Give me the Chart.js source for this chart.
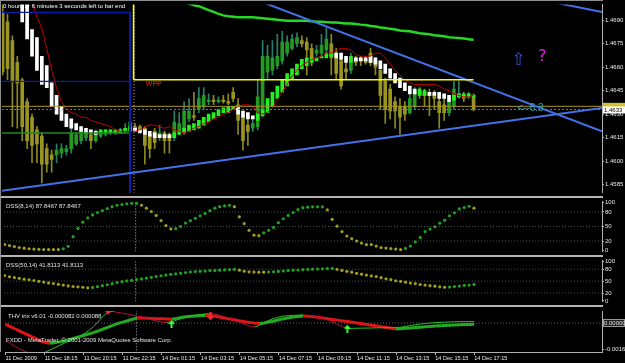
<!DOCTYPE html>
<html>
<head>
<meta charset="utf-8">
<script src="https://cdn.jsdelivr.net/npm/chart.js@4.4.1/dist/chart.umd.min.js"></script>
<style>
html, body { margin: 0; padding: 0; background: #000; }
body { width: 625px; height: 363px; position: relative; overflow: hidden; }
canvas { position: absolute; left: 0; }
.sep { position: absolute; left: 0; width: 603px; height: 2px; background: #b4b4b4; }
</style>
</head>
<body>
<canvas id="main" width="625" height="197" style="top:0"></canvas>
<canvas id="dss1" width="625" height="59" style="top:197px"></canvas>
<canvas id="dss2" width="625" height="50" style="top:256px"></canvas>
<canvas id="thv" width="625" height="57" style="top:306px"></canvas>
<div class="sep" style="top:196px"></div>
<div class="sep" style="top:255px"></div>
<div class="sep" style="top:305px"></div>
<div style="position:absolute;left:0;top:0;width:603px;height:1px;background:#8c8c8c"></div>
<div style="position:absolute;left:0;top:0;width:1px;height:352px;background:#8c8c8c"></div>
<script>
// EURUSD M15, 11 Dec 16:15 -> 14 Dec 17:15 (bar index 0..96)
const openP = [1.4695,1.4689,1.4677,1.4663,1.4652,1.4638,1.4628,1.4620,1.4616,1.4608,
  1.4604,1.4604,1.4605,1.4606,1.4608,1.4611,1.4613,1.4615,1.4617,1.4613,
  1.4616,1.4617,1.4618,1.4618,1.4618,1.4619,1.4620,1.4622,1.4622,1.4621,
  1.4617,1.4619,1.4615,1.4618,1.4617,1.4615,1.4619,1.4618,1.4627,1.4629,
  1.4633,1.4635,1.4638,1.4639,1.4638,1.4639,1.4638,1.4644,1.4636,1.4629,
  1.4623,1.4621,1.4622,1.4630,1.4657,1.4658,1.4661,1.4664,1.4669,1.4672,
  1.4675,1.4677,1.4676,1.4672,1.4669,1.4669,1.4671,1.4675,1.4669,1.4664,
  1.4659,1.4658,1.4666,1.4666,1.4665,1.4669,1.4664,1.4658,1.4651,1.4646,
  1.4638,1.4635,1.4635,1.4631,1.4635,1.4645,1.4644,1.4644,1.4643,1.4638,
  1.4636,1.4631,1.4635,1.4641,1.4642,1.4641,1.4642];
const highP = [1.4700,1.4694,1.4680,1.4667,1.4653,1.4640,1.4630,1.4622,1.4618,1.4611,
  1.4607,1.4611,1.4611,1.4610,1.4621,1.4618,1.4621,1.4620,1.4618,1.4620,
  1.4620,1.4620,1.4620,1.4620,1.4621,1.4624,1.4627,1.4624,1.4623,1.4622,
  1.4618,1.4621,1.4623,1.4619,1.4618,1.4632,1.4631,1.4638,1.4640,1.4644,
  1.4647,1.4647,1.4643,1.4642,1.4641,1.4642,1.4643,1.4647,1.4640,1.4632,
  1.4627,1.4627,1.4652,1.4677,1.4674,1.4677,1.4681,1.4683,1.4680,1.4681,
  1.4682,1.4680,1.4679,1.4675,1.4674,1.4681,1.4685,1.4681,1.4672,1.4667,
  1.4664,1.4669,1.4667,1.4667,1.4667,1.4672,1.4666,1.4661,1.4653,1.4649,
  1.4641,1.4640,1.4638,1.4643,1.4647,1.4647,1.4646,1.4646,1.4645,1.4642,
  1.4640,1.4641,1.4651,1.4651,1.4644,1.4644,1.4643];
const lowP = [1.4655,1.4652,1.4622,1.4621,1.4613,1.4608,1.4599,1.4599,1.4586,1.4593,
  1.4593,1.4599,1.4602,1.4604,1.4605,1.4610,1.4611,1.4613,1.4608,1.4612,
  1.4615,1.4616,1.4617,1.4617,1.4618,1.4618,1.4618,1.4619,1.4618,1.4598,
  1.4602,1.4608,1.4613,1.4605,1.4605,1.4613,1.4617,1.4617,1.4625,1.4626,
  1.4631,1.4633,1.4636,1.4636,1.4637,1.4637,1.4636,1.4638,1.4617,1.4607,
  1.4610,1.4619,1.4620,1.4628,1.4652,1.4655,1.4659,1.4662,1.4667,1.4671,
  1.4673,1.4673,1.4655,1.4661,1.4667,1.4667,1.4669,1.4655,1.4652,1.4646,
  1.4652,1.4656,1.4661,1.4661,1.4662,1.4661,1.4655,1.4633,1.4624,1.4627,
  1.4621,1.4617,1.4626,1.4630,1.4633,1.4640,1.4635,1.4629,1.4633,1.4621,
  1.4626,1.4629,1.4633,1.4640,1.4638,1.4640,1.4632];
const closeP = [1.4657,1.4659,1.4651,1.4650,1.4622,1.4613,1.4610,1.4611,1.4598,1.4598,
  1.4601,1.4607,1.4608,1.4608,1.4618,1.4617,1.4619,1.4618,1.4613,1.4619,
  1.4619,1.4618,1.4619,1.4619,1.4620,1.4621,1.4625,1.4620,1.4620,1.4610,
  1.4608,1.4612,1.4618,1.4613,1.4613,1.4625,1.4624,1.4632,1.4632,1.4628,
  1.4640,1.4642,1.4639,1.4638,1.4639,1.4638,1.4637,1.4640,1.4626,1.4613,
  1.4619,1.4624,1.4641,1.4667,1.4667,1.4666,1.4667,1.4676,1.4676,1.4678,
  1.4679,1.4675,1.4671,1.4664,1.4671,1.4674,1.4678,1.4666,1.4656,1.4648,
  1.4657,1.4666,1.4663,1.4664,1.4663,1.4663,1.4660,1.4642,1.4633,1.4632,
  1.4632,1.4628,1.4630,1.4640,1.4645,1.4642,1.4642,1.4642,1.4640,1.4631,
  1.4631,1.4638,1.4646,1.4643,1.4640,1.4643,1.4633];

// Heiken Ashi bodies
const haOpen = [null,null,null,null,1.4704,1.4701,1.4684,1.4679,1.4667,1.4661,
  1.4650,1.4642,1.4635,1.4630,1.4627,1.4624,1.4622,1.4621,1.4620,1.4619,
  1.4618,1.4618,1.4618,1.4618,1.4618,1.4619,1.4619,1.4621,1.4620,1.4620,
  1.4619,1.4618,1.4617,1.4617,1.4617,1.4615,1.4617,1.4618,1.4619,1.4620,
  1.4621,1.4623,1.4625,1.4627,1.4629,1.4631,1.4631,1.4633,1.4634,1.4632,
  1.4631,1.4629,1.4626,1.4629,1.4631,1.4635,1.4640,1.4644,1.4648,1.4652,
  1.4655,1.4659,1.4661,1.4663,1.4664,1.4666,1.4666,1.4667,1.4669,1.4669,
  1.4667,1.4663,1.4666,1.4666,1.4666,1.4667,1.4666,1.4664,1.4662,1.4659,
  1.4656,1.4653,1.4650,1.4648,1.4646,1.4642,1.4642,1.4644,1.4644,1.4644,
  1.4643,1.4642,1.4639,1.4641,1.4641,1.4641,1.4641];
const haClose = [null,null,null,null,1.4689,1.4678,1.4667,1.4658,1.4649,1.4647,
  1.4635,1.4630,1.4626,1.4622,1.4621,1.4620,1.4619,1.4618,1.4618,1.4617,
  1.4620,1.4620,1.4620,1.4620,1.4620,1.4621,1.4622,1.4619,1.4618,1.4617,
  1.4616,1.4615,1.4615,1.4615,1.4615,1.4618,1.4619,1.4621,1.4623,1.4624,
  1.4626,1.4628,1.4630,1.4631,1.4633,1.4634,1.4635,1.4635,1.4630,1.4628,
  1.4627,1.4627,1.4630,1.4633,1.4640,1.4644,1.4648,1.4652,1.4656,1.4659,
  1.4662,1.4665,1.4666,1.4666,1.4666,1.4667,1.4669,1.4669,1.4666,1.4665,
  1.4663,1.4667,1.4664,1.4664,1.4664,1.4663,1.4662,1.4659,1.4656,1.4653,
  1.4650,1.4647,1.4645,1.4643,1.4643,1.4646,1.4645,1.4642,1.4642,1.4640,
  1.4640,1.4638,1.4642,1.4643,1.4643,1.4643,1.4642];

// moving averages
const maRed = [null,null,null,null,null,null,1.4702,1.4692,1.4685,1.4672,
  1.4658,1.4647,1.4638,1.4633,1.4631,1.4630,1.4628,1.4628,1.4626,1.4625,
  1.4624,1.4623,1.4622,1.4620,1.4619,1.4619,1.4619,1.4619,1.4620,1.4622,
  1.4623,1.4623,1.4622,1.4621,1.4622,1.4620,1.4619,1.4618,1.4619,1.4621,
  1.4622,1.4624,1.4625,1.4627,1.4628,1.4630,1.4631,1.4633,1.4635,1.4636,
  1.4636,1.4635,1.4631,1.4630,1.4631,1.4634,1.4639,1.4644,1.4649,1.4654,
  1.4658,1.4661,1.4663,1.4665,1.4666,1.4667,1.4669,1.4669,1.4671,1.4672,
  1.4672,1.4671,1.4668,1.4667,1.4667,1.4667,1.4669,1.4669,1.4666,1.4662,
  1.4658,1.4655,1.4652,1.4650,1.4649,1.4649,1.4649,1.4649,1.4649,1.4648,
  1.4646,1.4645,1.4643,1.4642,1.4641,1.4641,1.4642];
const maGreen = [null,null,null,null,null,null,null,null,null,null,
  null,null,null,null,null,null,null,null,null,null,
  null,null,null,null,null,null,null,null,null,null,
  null,null,null,null,null,null,1.47021,1.47015,1.47006,1.46996,
  1.46990,1.46978,1.46965,1.46953,1.46941,1.46931,1.46925,1.46922,1.46919,1.46919,
  1.46919,1.46919,1.46916,1.46913,1.46910,1.46907,1.46903,1.46900,1.46897,1.46897,
  1.46897,1.46897,1.46897,1.46894,1.46891,1.46891,1.46888,1.46885,1.46885,1.46882,
  1.46879,1.46879,1.46876,1.46872,1.46869,1.46863,1.46860,1.46854,1.46851,1.46845,
  1.46841,1.46835,1.46832,1.46829,1.46823,1.46817,1.46814,1.46810,1.46804,1.46801,
  1.46798,1.46792,1.46789,1.46786,1.46783,1.46779,1.46776];

// DSS(8,14) and second DSS
const dss1 = [12.7,10.6,8.5,6.6,5.2,4.0,3.4,2.8,2.4,2.2,
  2.2,2.2,4.0,9.0,29,46,59,68,74,79,
  83,87,91,94,95.5,97,98,98,94,88,
  81,73,62,52,45,45.5,50,57,62,67,
  72,77,83,88,91,92.5,94,91,70,56,
  42,32,31,37,42,48,58,66,73,79,
  85,89,90,90.6,90.6,90.6,84.5,64.8,50.6,39.6,
  30.4,24.9,20,15.7,12.7,12.7,9.6,6.4,5.3,4.1,
  3.4,2.2,4.7,9.6,18.2,27.4,39.6,44.6,49.5,56.9,
  63,72.2,78.3,86.4,89.3,91.9,87.8467];
const dss2 = [63.9,61,59,57,55,53.5,51.5,49.5,47.5,45.5,
  44,42,40,38,36.5,35.5,34.5,33,34,36,
  38.5,40.8,43.5,46.5,48.5,50.5,52,54,55.5,57.5,
  59.5,61.5,63.5,65.3,67,68.5,70,71.5,73,74,
  74.7,75.4,76.2,76.9,77.6,78.3,79.1,79.8,77.6,75,
  73.5,72.8,72.6,72.5,73,73.5,74.5,75.5,76.5,77.5,
  78,79,79.5,80,80.5,81,81.5,81.9,79.8,76.9,
  74.7,72.6,69.6,67.5,65.3,63.2,61.7,58.8,55.9,53.8,
  50.9,49.5,47.3,45.1,43.7,41.5,40.1,38.6,37.2,35.7,
  34.5,35,36.5,37.5,39.5,40.1,41.8113];
const dssLevels = [20, 50, 80];
const dssTicks = [0, 20, 50, 80, 100];

// THV trix
const thvMain = [-0.000086,-0.000229,-0.000372,-0.000515,-0.000658,-0.000801,-0.000944,-0.001087,-0.001201,-0.001258,
  -0.00123,-0.001173,-0.001115,-0.00103,-0.000944,-0.000858,-0.000772,-0.000686,-0.000601,-0.000486,
  -0.000372,-0.000257,-0.000143,-0.000029,0.000057,0.000143,0.000229,0.000315,0.000303,0.000292,
  0.00028,0.000269,0.000257,0.000246,0.000235,0.000286,0.000343,0.000383,0.000418,0.00044,
  0.000458,0.000469,0.000452,0.000412,0.00036,0.000303,0.000246,0.000189,0.000132,0.000074,
  0.000029,-0.000006,-0.000029,0,0.000057,0.000126,0.0002,0.000269,0.000326,0.000372,
  0.000406,0.000429,0.000418,0.000395,0.00036,0.000315,0.000269,0.000223,0.000177,0.000132,
  0.000086,0.00004,-0.000006,-0.000051,-0.000097,-0.000143,-0.000189,-0.000235,-0.00028,-0.000326,
  -0.000372,-0.000355,-0.000332,-0.000309,-0.000286,-0.000263,-0.00024,-0.000217,-0.000194,-0.000172,
  -0.000154,-0.000137,-0.00012,-0.000103,-0.000095,-0.000088,-0.000082];
const thvFast = [-0.001115,-0.001287,-0.001459,-0.00163,-0.001773,-0.001859,-0.001916,-0.001916,-0.00183,-0.001687,
  -0.001544,-0.001401,-0.001258,-0.001115,-0.000972,-0.000829,-0.000686,-0.000486,-0.000229,0.000086,
  0.000429,0.000686,0.000715,0.000658,0.000601,0.000543,0.000486,0.000429,0.000372,0.000286,
  0.0002,0.000114,0.000057,0.000029,0.000057,0.000172,0.000286,0.000372,0.000429,0.000486,
  0.000532,0.000566,0.000583,0.000543,0.000458,0.000372,0.000257,0.000143,0.000029,-0.000086,
  -0.0002,-0.000257,-0.000143,0.000029,0.000172,0.000286,0.000372,0.000429,0.000458,0.000475,
  0.000486,0.000492,0.000469,0.000429,0.000372,0.000315,0.0002,0.000057,-0.000086,-0.000229,
  -0.000343,-0.000332,-0.000326,-0.00032,-0.000315,-0.000309,-0.000303,-0.000297,-0.000292,-0.000286,
  -0.00028,-0.000257,-0.000212,-0.00016,-0.000109,-0.000063,-0.000029,0,0.000023,0.00004,
  0.000051,0.000063,0.000074,0.00008,0.000083,0.000086,0.000088];
const thvSellArrows = [{ x: 21, y: 0.00077 }, { x: 42, y: 0.00041 }];
const thvBuyArrows = [{ x: 34, y: -0.00007 }, { x: 70, y: -0.00035 }];
const thvMinLabel = -0.00163;

// axes
const priceTicks = [1.4585, 1.4600, 1.4615, 1.4630, 1.4645, 1.4660, 1.4675, 1.4690];
const timeLabels = ['11 Dec 2009', '11 Dec 18:15', '11 Dec 20:15', '11 Dec 22:15', '14 Dec 01:15', '14 Dec 03:15',
  '14 Dec 05:15', '14 Dec 07:15', '14 Dec 09:15', '14 Dec 11:15', '14 Dec 13:15', '14 Dec 15:15', '14 Dec 17:15'];
const timeTickBars = [0, 8, 16, 24, 32, 40, 48, 56, 64, 72, 80, 88, 96];

// chart objects (bar index / price)
const blueLevels = [1.4695, 1.4651];
const blueEnd = 26.0;
const greenLevel = 1.4618;
const yellowLevel = 1.4652;
const yellowSpan = [26.7, 96];
const oliveLevel = 1.4635;
const daySeparator = 26.8;
const supportLine = [[-0.12, 1.4581], [122.18, 1.4634]];
const resistLine = [[40, 1.4717], [122.18, 1.4619]];
const upperLine = [[105, 1.4706], [122.18, 1.46953]];

const X_MIN = -0.12, X_MAX = 122.18;
const bars = openP.map((_, i) => i);
const last = bars.length - 1;

Chart.defaults.font.family = "'Liberation Sans', Arial, sans-serif";
Chart.defaults.font.size = 6;
Chart.defaults.color = '#e8e8e8';
Chart.defaults.animation = false;
Chart.defaults.plugins.legend.display = false;
Chart.defaults.plugins.tooltip.enabled = false;

const pts = arr => arr.map((v, i) => ({ x: i, y: v }));
function trend(arr) {
  const out = []; let up = false;
  arr.forEach((v, i) => {
    if (i > 0 && v != null && arr[i - 1] != null) {
      if (v > arr[i - 1]) up = true; else if (v < arr[i - 1]) up = false;
    }
    out.push(up);
  });
  return out;
}
function seg(points, color, width, dash, order) {
  return { type: 'line', data: points.map(p => ({ x: p[0], y: p[1] })), borderColor: color, borderWidth: width,
    borderDash: dash || [], pointRadius: 0, order: order };
}
function xAxis(show) {
  return {
    type: 'linear', min: X_MIN, max: X_MAX, offset: false, display: show,
    grid: { display: show, drawOnChartArea: false, offset: false, tickLength: 3, tickColor: '#b0b0b0' },
    border: { display: show, color: '#b0b0b0' },
    afterBuildTicks: s => { s.ticks = timeTickBars.map(v => ({ value: v })); },
    afterFit: s => { if (show) s.height = 11; },
    ticks: { autoSkip: false, maxRotation: 0, minRotation: 0, align: 'start', padding: 0,
      font: { size: 5.6 }, callback: (v, i) => timeLabels[i] }
  };
}
function yAxis(min, max, tickVals, fmt) {
  return {
    position: 'right', min: min, max: max, beginAtZero: false,
    afterBuildTicks: s => { s.ticks = tickVals.map(v => ({ value: v })); },
    afterFit: s => { s.width = 23; },
    grid: { drawOnChartArea: false, tickLength: 2, tickColor: '#b0b0b0' },
    border: { color: '#b0b0b0' },
    ticks: { padding: 1, autoSkip: false, callback: fmt, font: { size: 6 } }
  };
}

// ---------- main price chart ----------
const bull = i => closeP[i] >= openP[i];
const haBull = i => haClose[i] >= haOpen[i];

const mainText = {
  id: 'mainText',
  afterDraw(chart) {
    const { ctx, scales: { x, y }, chartArea } = chart;
    ctx.save();
    ctx.textBaseline = 'middle';
    ctx.fillStyle = '#ffffff';
    ctx.font = "6px 'Liberation Sans'";
    ctx.fillText('0 hours or 6 minutes 3 seconds left to bar end', 3, 6);
    ctx.fillStyle = '#b01818';
    ctx.font = "bold 7px 'Liberation Sans'";
    ctx.fillText('WPP', x.getPixelForValue(29.2), y.getPixelForValue(1.46491));
    ctx.textAlign = 'center';
    ctx.fillStyle = '#3555d8';
    ctx.font = "17px 'DejaVu Sans'";
    ctx.fillText('\u21E7', x.getPixelForValue(105.2), y.getPixelForValue(1.46643));
    ctx.fillStyle = '#e020e0';
    ctx.font = "16px 'DejaVu Sans'";
    ctx.fillText('?', x.getPixelForValue(110.0), y.getPixelForValue(1.46665));
    ctx.textAlign = 'left';
    ctx.fillStyle = '#38a8a8';
    ctx.font = "10px 'Liberation Sans'";
    ctx.fillText('<--6.3', x.getPixelForValue(104.9), y.getPixelForValue(1.46339));
    // price labels on the axis
    const bx = chartArea.right + 1;
    ctx.font = "6px 'Liberation Sans'";
    ctx.fillStyle = '#d4c030';
    ctx.fillRect(bx, y.getPixelForValue(oliveLevel) - 3.5, 22, 7);
    const yb = y.getPixelForValue(closeP[last]);
    ctx.fillStyle = '#ffffff';
    ctx.fillRect(bx, yb - 3, 22, 7);
    ctx.fillStyle = '#000000';
    ctx.fillText(closeP[last].toFixed(4), bx + 1, yb + 0.5);
    ctx.restore();
  }
};

new Chart(document.getElementById('main'), {
  type: 'bar',
  data: {
    datasets: [
      seg([[yellowSpan[0], yellowLevel], [yellowSpan[1], yellowLevel]], '#ffff00', 1.6, null, 1),
      seg([[yellowSpan[0], 1.4703], [yellowSpan[0], yellowLevel]], '#ffff00', 1.6, null, 1),
      seg(supportLine, '#4470e8', 2, null, 2),
      seg(resistLine, '#4470e8', 2, null, 2),
      seg(upperLine, '#4470e8', 2, null, 2),
      seg([[X_MIN, blueLevels[0]], [blueEnd, blueLevels[0]]], '#0c1ca8', 1.3, null, 3),
      seg([[X_MIN, blueLevels[1]], [blueEnd, blueLevels[1]]], '#0c1ca8', 1.3, null, 3),
      seg([[blueEnd, blueLevels[0]], [blueEnd, 1.4570]], '#0c1ca8', 2.2, null, 3),
      seg([[X_MIN, greenLevel], [blueEnd - 0.1, greenLevel]], '#1d8a1d', 1.6, null, 3),
      seg([[blueEnd - 0.1, greenLevel], [blueEnd - 0.1, 1.4570]], '#1d8a1d', 1.3, null, 3),
      seg([[X_MIN, oliveLevel], [X_MAX, oliveLevel]], '#a89428', 1, null, 4),
      seg([[X_MIN, closeP[last]], [X_MAX, closeP[last]]], '#7a7a7a', 1, [2, 2], 4),
      seg([[daySeparator, 1.4570], [daySeparator, 1.4710]], '#b8b8b8', 1, [1, 2], 5),
      { type: 'line', data: pts(maGreen), borderColor: '#26d826', borderWidth: 2.5, pointRadius: 0, order: 6 },
      { type: 'line', data: pts(maRed), borderColor: '#c00000', borderWidth: 1, pointRadius: 0, order: 7 },
      { type: 'bar', data: bars.map(i => ({ x: i, y: haOpen[i] == null ? null : [haOpen[i], haClose[i]] })),
        barThickness: 3, grouped: false, minBarLength: 1,
        backgroundColor: c => haBull(c.dataIndex) ? '#22f022' : '#ffffff', order: 8 },
      { type: 'bar', data: bars.map(i => ({ x: i, y: [openP[i], closeP[i]] })),
        barThickness: 3, grouped: false, minBarLength: 1,
        backgroundColor: c => bull(c.dataIndex) ? '#239a23' : '#9a9422', order: 9 },
      { type: 'bar', data: bars.map(i => ({ x: i, y: [lowP[i], highP[i]] })),
        barThickness: 1, grouped: false,
        backgroundColor: c => bull(c.dataIndex) ? '#2a7f6a' : '#8a8a1c', order: 10 }
    ]
  },
  options: {
    responsive: false, devicePixelRatio: 1,
    layout: { padding: { left: 2, top: 2, bottom: 1, right: 0 } },
    scales: {
      x: xAxis(false),
      y: yAxis(1.4580, 1.4700, priceTicks, v => v.toFixed(4))
    }
  },
  plugins: [mainText]
});

// ---------- DSS panels ----------
function dssChart(id, values, label, min, max, pad) {
  const up = trend(values);
  const txt = {
    id: 'txt' + id,
    afterDraw(chart) {
      const { ctx, chartArea } = chart;
      ctx.save();
      ctx.fillStyle = '#e0e0e0';
      ctx.font = "6px 'Liberation Sans'";
      ctx.textBaseline = 'middle';
      ctx.fillText(label, chartArea.left + 2, chartArea.top + 5);
      ctx.restore();
    }
  };
  const ds = [
    { data: pts(values), showLine: false, pointRadius: 1.6, pointBorderWidth: 0,
      pointBackgroundColor: c => up[c.dataIndex] ? '#22a022' : '#a09c22', order: 1 },
    seg([[daySeparator, min], [daySeparator, max]], '#b8b8b8', 1, [1, 2], 3)
  ];
  dssLevels.forEach(l => ds.push(seg([[X_MIN, l], [X_MAX, l]], '#3a5a4a', 1, [1, 2], 2)));
  new Chart(document.getElementById(id), {
    type: 'line',
    data: { datasets: ds },
    options: {
      responsive: false, devicePixelRatio: 1,
      layout: { padding: pad },
      scales: { x: xAxis(false), y: yAxis(min, max, dssTicks, v => String(v)) }
    },
    plugins: [txt]
  });
}
dssChart('dss1', dss1, 'DSS(8,14) 87.8467 87.8467', -1.5, 101.5, { left: 2, top: 2, bottom: 1, right: 0 });
dssChart('dss2', dss2, 'DSS(50,14) 41.8113 41.8113', -1.1, 101.7, { left: 2, top: 1.5, bottom: 1, right: 0 });

// ---------- THV panel ----------
function arrowImg(color, up) {
  const c = document.createElement('canvas'); c.width = 7; c.height = 8;
  const g = c.getContext('2d'); g.fillStyle = color;
  g.beginPath();
  if (up) { g.moveTo(3.5, 0); g.lineTo(7, 4); g.lineTo(0, 4); g.fill(); g.fillRect(2.5, 4, 2, 4); }
  else { g.fillRect(2.5, 0, 2, 4); g.moveTo(0, 4); g.lineTo(7, 4); g.lineTo(3.5, 8); g.fill(); }
  return c;
}
const mainUp = trend(thvMain);
const fastUp = trend(thvFast);
const thvText = {
  id: 'thvText',
  afterDraw(chart) {
    const { ctx, chartArea, scales: { y } } = chart;
    ctx.save();
    ctx.font = "6px 'Liberation Sans'";
    ctx.textBaseline = 'middle';
    ctx.fillStyle = '#e0e0e0';
    ctx.fillText('THV trix v6.01 ' + thvMain[last].toFixed(6) + ' ' + thvFast[last].toFixed(6), chartArea.left + 3, chartArea.top + 5);
    ctx.fillText('FXDD - MetaTrader, \u00A9 2001-2009 MetaQuotes Software Corp.', chartArea.left + 1, chartArea.top + 29);
    const y0 = y.getPixelForValue(0);
    ctx.fillStyle = '#202020';
    ctx.fillRect(chartArea.right + 1, y0 - 3.5, 22, 7);
    ctx.strokeStyle = '#9a9a9a';
    ctx.strokeRect(chartArea.right + 1.5, y0 - 3.5, 21, 7);
    ctx.fillStyle = '#e0e0e0';
    ctx.fillText('0.000003', chartArea.right + 2, y0);
    ctx.restore();
  }
};
new Chart(document.getElementById('thv'), {
  type: 'line',
  data: {
    datasets: [
      { type: 'scatter', data: thvSellArrows, pointStyle: arrowImg('#ff3030', false), pointRadius: 3, order: 1 },
      { type: 'scatter', data: thvBuyArrows, pointStyle: arrowImg('#40ff40', true), pointRadius: 3, order: 1 },
      { data: pts(thvFast), borderWidth: 1, pointRadius: 0, order: 2,
        segment: { borderColor: c => fastUp[c.p1DataIndex] ? '#22c022' : '#b01040' } },
      { data: pts(thvMain), borderWidth: 3, pointRadius: 0, order: 3,
        segment: { borderColor: c => mainUp[c.p1DataIndex] ? '#22a822' : '#e01414' } },
      seg([[X_MIN, 0], [X_MAX, 0]], '#6a6a6a', 1, [1, 2], 4),
      seg([[daySeparator, -0.003], [daySeparator, 0.002]], '#b8b8b8', 1, [1, 2], 5)
    ]
  },
  options: {
    responsive: false, devicePixelRatio: 1,
    layout: { padding: { left: 2, top: 1.5, bottom: 0, right: 0 } },
    scales: {
      x: xAxis(true),
      y: yAxis(-0.0018, 0.000744, [thvMinLabel], v => v.toFixed(5))
    }
  },
  plugins: [thvText]
});
</script>
</body>
</html>
